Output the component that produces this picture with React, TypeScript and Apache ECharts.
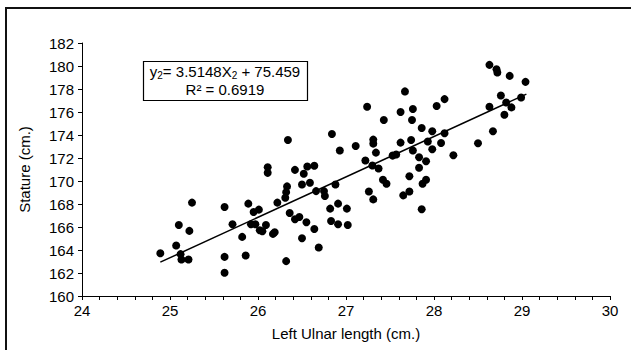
import React, { useEffect, useRef } from "react";
import * as echarts from "echarts";

const ulnaX: number[] = [
  24.89, 25.07, 25.10, 25.12, 25.13, 25.21, 25.22, 25.25, 25.62, 25.62,
  25.62, 25.71, 25.82, 25.86, 25.89, 25.92, 25.95, 25.97, 26.01, 26.09,
  26.02, 26.05, 26.19, 26.17, 26.11, 26.11, 26.22, 26.31, 26.32, 26.33,
  26.36, 26.42, 26.47, 26.42, 26.52, 26.50, 26.59, 26.55, 26.50, 26.64,
  26.69, 26.32, 26.66, 26.75, 26.76, 26.88, 26.91, 26.82, 27.01, 26.83,
  26.91, 27.02, 27.26, 27.31, 27.24, 26.34, 26.84, 26.93, 27.11, 27.31,
  27.31, 27.34, 27.22, 27.30, 26.56, 26.64, 28.63, 28.71, 28.72, 28.86,
  27.67, 28.12, 28.03, 28.76, 28.63, 28.82, 28.80, 28.67, 28.50, 27.62,
  27.76, 27.75, 27.43, 27.86, 27.98, 28.12, 27.62, 27.74, 27.93, 28.08,
  28.22, 27.98, 27.76, 27.83, 27.91, 27.83, 27.53, 27.57, 27.37, 27.42,
  27.72, 27.91, 27.46, 27.87, 27.65, 27.72, 27.86, 29.04, 28.88, 28.99,
];

const stature: number[] = [
  163.72, 164.39, 166.18, 163.64, 163.18, 163.18, 165.66, 168.12, 167.74, 163.40,
  162.02, 166.24, 165.14, 163.52, 168.03, 166.24, 167.30, 166.24, 167.51, 166.18,
  165.72, 165.63, 165.54, 165.40, 170.71, 171.20, 168.12, 168.55, 169.03, 169.53,
  167.22, 166.67, 166.87, 170.97, 170.63, 169.70, 169.85, 166.41, 165.02, 165.83,
  164.22, 163.03, 169.12, 169.12, 168.69, 169.70, 168.03, 167.60, 167.60, 166.52,
  166.24, 166.18, 169.09, 168.40, 176.46, 173.57, 174.09, 172.65, 173.05, 173.60,
  173.25, 172.47, 171.78, 171.35, 171.26, 171.32, 180.10, 179.72, 179.43, 179.14,
  177.79, 177.12, 176.52, 177.44, 176.46, 176.83, 175.76, 174.32, 173.28, 176.00,
  176.26, 175.30, 175.30, 174.61, 174.32, 174.15, 173.34, 173.57, 173.43, 173.31,
  172.24, 172.76, 172.65, 172.07, 171.72, 171.15, 172.21, 172.30, 171.09, 170.11,
  170.42, 170.11, 169.76, 169.76, 168.75, 169.09, 167.54, 178.62, 176.40, 177.26,
];

const trendX: number[] = [24.89, 29.05];
const trendY: number[] = [162.94, 177.56];

const xTicks = { min: 24, max: 30, interval: 1 };
const yTicks = { min: 160, max: 182, interval: 2 };

const FONT = "Liberation Sans, Arial, sans-serif";

export default function App() {
  const ref = useRef<HTMLDivElement>(null);

  useEffect(() => {
    if (!ref.current) return;
    const chart = echarts.init(ref.current, undefined, { renderer: "svg" });
    const points = ulnaX.map((x, i) => [x, stature[i]]);
    const trend = trendX.map((x, i) => [x, trendY[i]]);
    chart.setOption({
      animation: false,
      backgroundColor: "#fff",
      textStyle: { fontFamily: FONT, color: "#000" },
      grid: { left: 82, right: 21, top: 43, bottom: 54 },
      xAxis: {
        type: "value",
        min: xTicks.min,
        max: xTicks.max,
        interval: xTicks.interval,
        name: "Left Ulnar length (cm.)",
        nameLocation: "middle",
        nameGap: 30,
        nameTextStyle: { fontFamily: FONT, fontSize: 15, color: "#000" },
        axisLine: { lineStyle: { color: "#000", width: 1 } },
        axisTick: { show: true, length: 4, lineStyle: { color: "#000" } },
        minorTick: { show: true, splitNumber: 5, length: 4, lineStyle: { color: "#000" } },
        axisLabel: { fontFamily: FONT, fontSize: 15, color: "#000", margin: 7 },
        splitLine: { show: false },
      },
      yAxis: {
        type: "value",
        min: yTicks.min,
        max: yTicks.max,
        interval: yTicks.interval,
        name: "Stature (cm.)",
        nameLocation: "middle",
        nameGap: 50,
        nameRotate: 90,
        nameTextStyle: { fontFamily: FONT, fontSize: 15, color: "#000" },
        axisLine: { show: true, lineStyle: { color: "#000", width: 1 } },
        axisTick: { show: true, length: 4, lineStyle: { color: "#000" } },
        axisLabel: { fontFamily: FONT, fontSize: 15, color: "#000", margin: 8 },
        splitLine: { show: false },
      },
      series: [
        {
          type: "scatter",
          data: points,
          symbol: "circle",
          symbolSize: 8,
          itemStyle: { color: "#000", opacity: 1 },
          z: 3,
        },
        {
          type: "line",
          data: trend,
          showSymbol: false,
          symbol: "none",
          lineStyle: { color: "#000", width: 1.5 },
          z: 2,
        },
      ],
      graphic: [
        {
          type: "rect",
          shape: { x: 6, y: 8, width: 700, height: 400 },
          style: { fill: "none", stroke: "#111", lineWidth: 2 },
          silent: true,
        },
        {
          type: "rect",
          shape: { x: 143.5, y: 61.5, width: 164, height: 39 },
          style: { fill: "#fff", stroke: "#000", lineWidth: 1.2 },
          z: 10,
        },
        {
          type: "text",
          x: 225,
          y: 63,
          z: 11,
          style: {
            text: "{a|y}{s|2}{a|= 3.5148X}{s|2}{a| + 75.459}",
            align: "center",
            verticalAlign: "top",
            fill: "#000",
            rich: {
              a: { fontFamily: FONT, fontSize: 15, lineHeight: 17, fill: "#000" },
              s: { fontFamily: FONT, fontSize: 10, lineHeight: 17, verticalAlign: "bottom", fill: "#000" },
            },
          },
        },
        {
          type: "text",
          x: 225,
          y: 82,
          z: 11,
          style: {
            text: "R² = 0.6919",
            align: "center",
            verticalAlign: "top",
            fontFamily: FONT,
            fontSize: 15,
            fill: "#000",
          },
        },
      ],
    });
    return () => chart.dispose();
  }, []);

  return (
    <div
      ref={ref}
      style={{ position: "absolute", left: 0, top: 0, width: 631, height: 350 }}
    />
  );
}
